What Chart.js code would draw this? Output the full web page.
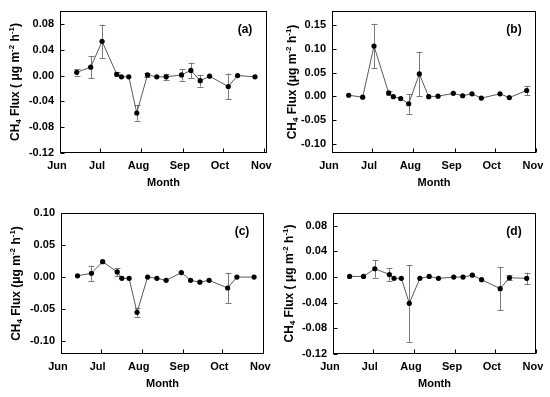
<!DOCTYPE html>
<html><head><meta charset="utf-8">
<script src="https://cdn.jsdelivr.net/npm/chart.js@4.4.1/dist/chart.umd.min.js"></script>
<style>
html,body{margin:0;padding:0;background:#fff;width:550px;height:397px;overflow:hidden}
canvas{position:absolute;display:block}
</style></head><body>
<canvas id="ca" width="275" height="197" style="left:0;top:0;width:275px;height:197px"></canvas>
<canvas id="cb" width="275" height="197" style="left:275px;top:0;width:275px;height:197px"></canvas>
<canvas id="cc" width="275" height="200" style="left:0;top:197px;width:275px;height:200px"></canvas>
<canvas id="cd" width="275" height="200" style="left:275px;top:197px;width:275px;height:200px"></canvas>
<script>
// sampling dates: days after 1 June
const sampleDays = [12.5, 23, 31.5, 42.5, 46, 51.5, 57.5, 65.5, 72.5, 79.5, 91, 98, 105, 112, 126, 133, 146];
const monthNames = ['Jun', 'Jul', 'Aug', 'Sep', 'Oct', 'Nov'];
const monthDays = [0, 30, 61, 92, 122, 153];

const fluxA = [0.005, 0.013, 0.053, 0.002, -0.002, -0.002, -0.058, 0.001, -0.002, -0.002, 0.001, 0.008, -0.008, -0.001, -0.017, 0.000, -0.002];
const errA  = [0.005, 0.017, 0.026, 0.003, 0, 0, 0.012, 0.003, 0, 0.005, 0.009, 0.012, 0.009, 0, 0.020, 0, 0];
const fluxB = [0.002, -0.002, 0.106, 0.007, -0.001, -0.005, -0.016, 0.047, -0.001, 0.000, 0.006, 0.001, 0.005, -0.004, 0.005, -0.003, 0.012];
const errB  = [0, 0, 0.047, 0.004, 0, 0, 0.021, 0.047, 0, 0, 0, 0, 0, 0, 0, 0, 0.010];
const fluxC = [0.002, 0.006, 0.024, 0.008, -0.002, -0.002, -0.055, 0.000, -0.002, -0.005, 0.007, -0.005, -0.008, -0.005, -0.017, 0.000, 0.000];
const errC  = [0, 0.012, 0, 0.006, 0, 0, 0.007, 0, 0, 0, 0, 0, 0, 0, 0.024, 0, 0];
const fluxD = [0.001, 0.001, 0.013, 0.004, -0.002, -0.002, -0.041, -0.002, 0.001, -0.002, 0.000, 0.000, 0.003, -0.004, -0.018, -0.001, -0.002];
const errD  = [0, 0, 0.014, 0.010, 0, 0, 0.060, 0, 0, 0, 0, 0, 0, 0, 0.034, 0.004, 0.009];

const ticksAD = [-0.12, -0.08, -0.04, 0.00, 0.04, 0.08];
const ticksB  = [-0.10, -0.05, 0.00, 0.05, 0.10, 0.15];
const ticksC  = [-0.10, -0.05, 0.00, 0.05, 0.10];

const FAM = "'Liberation Sans', Arial, Helvetica, sans-serif";
const titleSpaced = ['CH', {sub:'4'}, ' Flux ( \u03bcg m', {sup:'-2'}, ' h', {sup:'-1'}, ')'];
const titleTight  = ['CH', {sub:'4'}, ' Flux (\u03bcg m', {sup:'-2'}, ' h', {sup:'-1'}, ')'];

function drawRich(ctx, segs, cx, cy) {
  const big = 'bold 12px ' + FAM, small = 'bold 8px ' + FAM;
  const parts = segs.map(s => typeof s === 'string' ? {t:s, f:big, dy:0} : (s.sub ? {t:s.sub, f:small, dy:3} : {t:s.sup, f:small, dy:-4}));
  let w = 0;
  parts.forEach(p => { ctx.font = p.f; p.w = ctx.measureText(p.t).width; w += p.w; });
  ctx.save();
  ctx.translate(cx, cy);
  ctx.rotate(-Math.PI / 2);
  ctx.fillStyle = '#000';
  ctx.textBaseline = 'middle';
  ctx.textAlign = 'left';
  let x = -w / 2;
  parts.forEach(p => { ctx.font = p.f; ctx.fillText(p.t, x, p.dy); x += p.w; });
  ctx.restore();
}

function makePanel(id, cfg) {
  const el = document.getElementById(id);
  const W = el.width, H = el.height, XH = 24;
  const decor = {
    id: 'decor',
    beforeDatasetsDraw(chart) {
      const ctx = chart.ctx, xs = chart.scales.x, ys = chart.scales.y;
      ctx.save();
      ctx.strokeStyle = '#7a7a7a';
      ctx.lineWidth = 1;
      sampleDays.forEach((d, i) => {
        const e = cfg.err[i];
        if (!e) return;
        const x = Math.round(xs.getPixelForValue(d)) + 0.5;
        const y1 = ys.getPixelForValue(cfg.flux[i] + e);
        const y2 = ys.getPixelForValue(cfg.flux[i] - e);
        ctx.beginPath();
        ctx.moveTo(x, y1); ctx.lineTo(x, y2);
        ctx.moveTo(x - 3, Math.round(y1) + 0.5); ctx.lineTo(x + 3, Math.round(y1) + 0.5);
        ctx.moveTo(x - 3, Math.round(y2) + 0.5); ctx.lineTo(x + 3, Math.round(y2) + 0.5);
        ctx.stroke();
      });
      ctx.restore();
    },
    afterDraw(chart) {
      const ctx = chart.ctx, a = chart.chartArea, xs = chart.scales.x, ys = chart.scales.y;
      ctx.save();
      ctx.strokeStyle = '#000';
      ctx.lineWidth = 1;
      const l = Math.round(a.left) + 0.5, r = Math.round(a.right) - 0.5, t = Math.round(a.top) + 0.5, b = Math.round(a.bottom) - 0.5;
      ctx.strokeRect(l, t, r - l, b - t);
      ctx.beginPath();
      cfg.ticks.forEach(v => {
        const y = Math.round(ys.getPixelForValue(v)) + 0.5;
        ctx.moveTo(l, y); ctx.lineTo(l + 4, y);
      });
      monthDays.forEach(v => {
        const x = Math.round(xs.getPixelForValue(v)) + 0.5;
        ctx.moveTo(x, b); ctx.lineTo(x, b - 4);
      });
      ctx.stroke();
      // axis titles
      drawRich(ctx, cfg.title, cfg.titleX, (a.top + a.bottom) / 2);
      ctx.fillStyle = '#000';
      ctx.font = 'bold 11px ' + FAM;
      ctx.textAlign = 'center';
      ctx.textBaseline = 'middle';
      ctx.fillText('Month', (a.left + a.right) / 2, a.bottom + 30);
      ctx.font = 'bold 12px ' + FAM;
      ctx.fillText(cfg.label, a.right - 22, a.top + 19);
      ctx.restore();
    }
  };
  new Chart(el, {
    type: 'scatter',
    data: {
      datasets: [{
        data: sampleDays.map((d, i) => ({x: d, y: cfg.flux[i]})),
        showLine: true,
        borderColor: '#5a5a5a',
        borderWidth: 1,
        pointRadius: 2.6,
        pointBackgroundColor: '#000',
        pointBorderColor: '#000',
        pointBorderWidth: 0
      }]
    },
    options: {
      responsive: false,
      animation: false,
      devicePixelRatio: 1,
      layout: {padding: {left: 0, top: cfg.T, right: W - cfg.R, bottom: H - cfg.B - XH}},
      plugins: {legend: {display: false}, tooltip: {enabled: false}},
      scales: {
        x: {
          type: 'linear', min: 0, max: cfg.xmax,
          grid: {display: false, drawTicks: false},
          border: {display: false},
          afterBuildTicks: s => { s.ticks = monthDays.map(v => ({value: v})); },
          afterFit: s => { s.height = XH; s.paddingLeft = 0; s.paddingRight = 0; },
          ticks: {
            autoSkip: false, maxRotation: 0, minRotation: 0, padding: 6, labelOffset: -3,
            color: '#000', font: {family: FAM, size: 11, weight: 'bold'},
            callback: v => monthNames[monthDays.indexOf(v)]
          }
        },
        y: {
          type: 'linear', min: cfg.ymin, max: cfg.ymax,
          grid: {display: false, drawTicks: false},
          border: {display: false},
          afterBuildTicks: s => { s.ticks = cfg.ticks.map(v => ({value: v})); },
          afterFit: s => { s.width = cfg.L; s.paddingTop = 0; s.paddingBottom = 0; },
          ticks: {
            padding: 6, color: '#000', font: {family: FAM, size: 11, weight: 'bold'},
            callback: v => v.toFixed(2)
          }
        }
      }
    },
    plugins: [decor]
  });
}

makePanel('ca', {flux: fluxA, err: errA, ticks: ticksAD, ymin: -0.12, ymax: 0.10, xmax: 155,
  L: 60, T: 11, R: 267, B: 153, title: titleSpaced, titleX: 16, label: '(a)'});
makePanel('cb', {flux: fluxB, err: errB, ticks: ticksB, ymin: -0.12, ymax: 0.18, xmax: 153,
  L: 57, T: 11, R: 261, B: 153, title: titleTight, titleX: 18, label: '(b)'});
makePanel('cc', {flux: fluxC, err: errC, ticks: ticksC, ymin: -0.12, ymax: 0.10, xmax: 153.5,
  L: 61, T: 16, R: 264, B: 157, title: titleTight, titleX: 17, label: '(c)'});
makePanel('cd', {flux: fluxD, err: errD, ticks: ticksAD, ymin: -0.12, ymax: 0.10, xmax: 153,
  L: 58, T: 16, R: 261, B: 157, title: titleSpaced, titleX: 15, label: '(d)'});
</script>
</body></html>
